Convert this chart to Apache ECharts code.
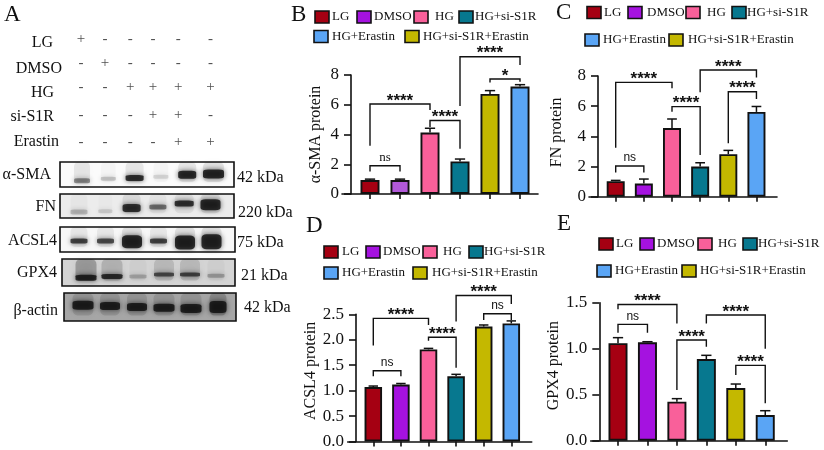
<!DOCTYPE html>
<html><head><meta charset="utf-8">
<style>html,body{margin:0;padding:0;background:#fff}#c{width:824px;height:450px}</style>
<script src="https://cdn.jsdelivr.net/npm/echarts@6/dist/echarts.min.js"></script>
</head><body><div id="c"></div>
<script>
// ---------- data ----------
var groups = ['LG','DMSO','HG','HG+si-S1R','HG+Erastin','HG+si-S1R+Erastin'];
var barsB = [0.94,0.94,4.13,2.19,6.73,7.22];
var errB  = [1.0,1.0,4.42,2.35,6.95,7.35];
var barsC = [1.03,0.87,4.55,2.0,2.82,5.62];
var errC  = [1.08,1.17,5.15,2.25,3.07,5.98];
var barsD = [1.07,1.12,1.81,1.28,2.26,2.32];
var errD  = [1.09,1.14,1.83,1.32,2.29,2.37];
var barsE = [1.06,1.07,0.424,0.888,0.572,0.279];
var errE  = [1.12,1.076,0.457,0.928,0.616,0.326];
// from, to, left end, top, right end, label
var bracketsB = [[0,1,1.52,1.9,1.52,'ns'],[0,2,3.24,6.05,5.65,'****'],[2,3,4.5,4.94,3.04,'****'],[3,5,5.92,9.23,8.67,'****'],[4,5,7.5,7.73,7.55,'*']];
var bracketsC = [[0,1,1.6,2.03,1.6,'ns'],[0,2,3.25,7.58,7.18,'****'],[2,3,5.63,5.97,2.76,'****'],[3,5,6.92,8.4,7.9,'****'],[4,5,3.54,6.96,6.47,'****']];
var bracketsD = [[0,1,1.28,1.39,1.28,'ns'],[0,2,1.885,2.42,2.29,'****'],[2,3,1.98,2.05,1.45,'****'],[3,5,2.36,2.87,2.70,'****'],[4,5,2.39,2.51,2.39,'ns']];
var bracketsE = [[0,2,1.43,1.48,1.275,'****'],[0,1,1.174,1.264,1.174,'ns'],[2,3,0.55,1.094,1.02,'****'],[3,5,1.275,1.366,1.0,'****'],[4,5,0.714,0.819,0.406,'****']];
var treatmentRows = ['LG','DMSO','HG','si-S1R','Erastin'];
var treatmentLG      = ['+','-','-','-','-','-'];
var treatmentDMSO    = ['-','+','-','-','-','-'];
var treatmentHG      = ['-','-','+','+','+','+'];
var treatmentSi      = ['-','-','-','+','+','-'];
var treatmentErastin = ['-','-','-','-','+','+'];
var blotNames = ['α-SMA','FN','ACSL4','GPX4','β-actin'];
var blotSizes = ['42 kDa','220 kDa','75 kDa','21 kDa','42 kDa'];
var bandSMA   = [0.5,0.22,0.97,0.14,1,1];
var bandFN    = [0.25,0.15,0.95,0.6,0.95,1];
var bandACSL4 = [0.85,0.8,1,0.85,1,1];
var bandGPX4  = [1,0.95,0.25,0.75,0.8,0.3];
var bandActin = [1,1,1,1,1,1];

// ---------- styling ----------
var SERIF = '"Liberation Serif","Times New Roman",serif', SANS = '"Liberation Sans",Arial,sans-serif';
var colors = ['#a50012','#a512e0','#f9609a','#07788f','#c4b800','#5aa5f5'];
var legendColors = {'LG':'#a50012','DMSO':'#a512e0','HG':'#f9609a','HG+si-S1R':'#07788f','HG+Erastin':'#5aa5f5','HG+si-S1R+Erastin':'#c4b800'};
var panels = [
 {yName:'α-SMA protein',bars:barsB,err:errB,br:bracketsB,left:342,right:538,top:75,bottom:194,axisX:351,first:370,band:30,barW:19,max:8,step:2,digits:0,nameGap:27,namePad:[0,0,0,0],nsFont:SERIF,dmso:'#b259d9',
  legend:[[315,17,332,'LG'],[357,17,374,'DMSO'],[414,17,435,'HG'],[459,17,475,'HG+si-S1R'],[314,36.5,332,'HG+Erastin'],[405,36.5,423,'HG+si-S1R+Erastin']]},
 {yName:'FN protein',bars:barsC,err:errC,br:bracketsC,left:589,right:777,top:76,bottom:196.7,axisX:598,first:615.7,band:28.15,barW:18,max:8,step:2,digits:0,nameGap:33,namePad:[0,0,0,8],nsFont:SANS,
  legend:[[587,12.5,604,'LG'],[628,12.5,647,'DMSO'],[686,12.5,707,'HG'],[732,12.5,747,'HG+si-S1R'],[585,40,603,'HG+Erastin'],[669,40,688,'HG+si-S1R+Erastin']]},
 {yName:'ACSL4 protein',bars:barsD,err:errD,br:bracketsD,left:347.7,right:531.7,top:314.3,bottom:441.7,axisX:356,first:373.3,band:27.6,barW:17.5,max:2.5,step:0.5,digits:1,nameGap:36,namePad:[0,0,0,14],nsFont:SANS,
  legend:[[324,252,342,'LG'],[366,252,383,'DMSO'],[423,252,443,'HG'],[469,252,484,'HG+si-S1R'],[324,273,342,'HG+Erastin'],[413,273,432,'HG+si-S1R+Erastin']]},
 {yName:'GPX4 protein',bars:barsE,err:errE,br:bracketsE,left:590.7,right:787.3,top:302.7,bottom:440.7,axisX:599.3,first:618,band:29.45,barW:19,max:1.5,step:0.5,digits:1,nameGap:31,namePad:[0,0,0,12],nsFont:SANS,
  legend:[[599,244,616,'LG'],[640,244,657,'DMSO'],[698,244,718,'HG'],[743,244,758,'HG+si-S1R'],[597,271,615,'HG+Erastin'],[682,271,700,'HG+si-S1R+Erastin']]}
];
var grids=[],xAxes=[],yAxes=[],series=[],graphic=[];
function text(t,x,y,size,align,font,extra){
  var o={type:'text',x:x,y:y,silent:true,style:{text:t,fontSize:size,fontFamily:font||SERIF,fill:'#111',align:align||'left',verticalAlign:'middle'}};
  if(extra) for(var k in extra) o[k]=extra[k];
  graphic.push(o);
}
panels.forEach(function(p){
  var g=grids.length;
  grids.push({left:p.left,top:p.top,width:p.right-p.left,height:p.bottom-p.top,containLabel:false});
  xAxes.push({gridIndex:g,type:'value',min:(p.left-p.first)/p.band,max:(p.right-p.first)/p.band,splitLine:{show:false},
    axisLine:{show:true,onZero:false,lineStyle:{color:'#111',width:1.6}},
    axisTick:{show:true,length:5,lineStyle:{color:'#111',width:1.6},customValues:[0,1,2,3,4,5]},
    axisLabel:{show:false}});
  yAxes.push({gridIndex:g,type:'value',min:0,max:p.max,interval:p.step,offset:-(p.axisX-p.left),splitLine:{show:false},
    name:p.yName,nameLocation:'middle',nameGap:p.nameGap,nameRotate:90,
    nameTextStyle:{fontFamily:SERIF,fontSize:16,color:'#111',padding:p.namePad},
    axisLine:{show:true,onZero:false,lineStyle:{color:'#111',width:1.6}},
    axisTick:{show:true,length:7,lineStyle:{color:'#111',width:1.6}},
    axisLabel:{margin:12,fontFamily:SERIF,fontSize:17,color:'#111',formatter:function(v){return v.toFixed(p.digits);}}});
  series.push({type:'bar',name:p.yName,xAxisIndex:g,yAxisIndex:g,barWidth:p.barW,silent:true,z:3,
    data:p.bars.map(function(v,i){return {value:[i,v],itemStyle:{color:(i===1&&p.dmso)?p.dmso:colors[i],borderColor:'#111',borderWidth:1.9}};})});
  series.push({type:'custom',name:p.yName+' error',xAxisIndex:g,yAxisIndex:g,silent:true,z:2,
    data:p.err.map(function(v,i){return [i,p.bars[i],v];}),
    renderItem:function(par,api){
      var a=api.coord([api.value(0),api.value(1)]),b=api.coord([api.value(0),api.value(2)]);
      var st={stroke:'#111',lineWidth:1.5,fill:'none'},c=p.barW*0.27;
      return {type:'group',children:[
        {type:'line',shape:{x1:a[0],y1:a[1],x2:b[0],y2:b[1]},style:st},
        {type:'line',shape:{x1:b[0]-c,y1:b[1],x2:b[0]+c,y2:b[1]},style:st}]};
    }});
  series.push({type:'custom',name:p.yName+' significance',xAxisIndex:g,yAxisIndex:g,silent:true,z:4,
    data:p.br.map(function(b){return [b[0],b[3],b[1],b[2],b[4]];}),
    renderItem:function(par,api){
      var x1=api.value(0),top=api.value(1),x2=api.value(2),l=api.value(3),r=api.value(4);
      var a=api.coord([x1,l]),b=api.coord([x1,top]),c=api.coord([x2,top]),d=api.coord([x2,r]);
      var lab=p.br[par.dataIndex][5],isNs=lab==='ns';
      return {type:'group',children:[
        {type:'polyline',shape:{points:[a,b,c,d]},style:{stroke:'#111',lineWidth:1.4,fill:'none'}},
        {type:'text',x:(b[0]+c[0])/2,y:b[1]-(isNs?8:3),style:{text:lab,align:'center',verticalAlign:'middle',
          fontFamily:isNs?p.nsFont:SANS,fontWeight:isNs?'normal':'bold',fontSize:isNs?(p.nsFont===SERIF?13:12):17,fill:'#111'}}]};
    }});
  p.legend.forEach(function(l){
    graphic.push({type:'rect',silent:true,shape:{x:l[0],y:l[1]-6,width:14,height:12},style:{fill:legendColors[l[3]],stroke:'#111',lineWidth:1.6}});
    text(l[3],l[2],l[1],13);
  });
});

// ---------- treatment table ----------
(function(){
  var g=grids.length,rows=[treatmentLG,treatmentDMSO,treatmentHG,treatmentSi,treatmentErastin];
  var colAt=[0,1,2.05,3,4.05,5.4],rowAt=[0.05,0.95,1.9,2.95,4],data=[];
  rows.forEach(function(r,ri){r.forEach(function(s,ci){data.push([colAt[ci],rowAt[ri],s]);});});
  grids.push({left:69,top:18,width:150,height:144});
  xAxes.push({gridIndex:g,type:'value',min:-0.5,max:5.75,show:false});
  yAxes.push({gridIndex:g,type:'value',min:-0.77,max:4.77,inverse:true,show:false});
  series.push({type:'scatter',name:'treatments',xAxisIndex:g,yAxisIndex:g,silent:true,symbolSize:1,itemStyle:{color:'rgba(0,0,0,0)'},data:data,
    label:{show:true,position:'inside',fontFamily:SERIF,fontSize:15,color:'#222',formatter:function(p){return p.value[2];}}});
  var lab=[[53,43],[62,69],[54,93],[54,117],[59,142]];
  treatmentRows.forEach(function(t,i){text(t,lab[i][0],lab[i][1],16,'right');});
})();

// ---------- western blots ----------
var blots=[
 {v:bandSMA,  box:[60,234,162,187],bg:'#fbfbfb',first:82,step:26.3,y:[.25,.33,.36,.41,.49,.52],w:[16,15,18,15,18,21],h:[5,4,6,4,8,9],haze:[.1,.03,.1,.03,.1,.12]},
 {v:bandFN,   box:[60,234,194,218],bg:'#ececec',first:79,step:26.3,y:[.25,.28,.42,.46,.6,.55],w:[17,14,18,17,19,20],h:[5,4,8,5,6,11],haze:[.03,.02,.1,.05,.08,.1]},
 {v:bandACSL4,box:[60,235,227,252],bg:'#f7f7f7',first:79,step:26.5,y:[.44,.44,.41,.44,.38,.41],w:[17,17,20,17,20,20],h:[5,5,13,5,14,15],haze:[.08,.08,.12,.08,.12,.12]},
 {v:bandGPX4, box:[62,235,259,286],bg:'#d4d4d4',first:86,step:26,y:[.31,.35,.35,.43,.43,.38],w:[21,21,17,20,20,17],h:[6,5,4,4,4,4],haze:[.35,.2,.04,.16,.16,.04]},
 {v:bandActin,box:[64,236,293,321],bg:'#a6a6a6',first:83,step:27,y:[.56,.54,.5,.47,.45,.5],w:[21,20,20,21,21,17],h:[9,8,8,8,9,12],haze:[.15,.15,.15,.15,.15,.25]}
];
var kda=[[237,178],[238,213],[237,243],[241,276],[244,308]],nm=[[51,175],[56,207],[57,241],[57,273],[58,311]];
blots.forEach(function(b,bi){
  var g=grids.length,B=b.box;
  grids.push({show:true,left:B[0],top:B[2],width:B[1]-B[0],height:B[3]-B[2],backgroundColor:b.bg,borderColor:'#111',borderWidth:1.6});
  xAxes.push({gridIndex:g,type:'value',min:(B[0]-b.first)/b.step,max:(B[1]-b.first)/b.step,show:false});
  yAxes.push({gridIndex:g,type:'value',min:0,max:1,show:false});
  series.push({type:'scatter',name:blotNames[bi]+' smear',xAxisIndex:g,yAxisIndex:g,silent:true,z:2,symbol:'roundRect',
    data:b.haze.map(function(v,i){return [i,0.6,v];}),
    symbolSize:function(v,p){return [b.w[p.dataIndex],(B[3]-B[2])*0.8];},
    itemStyle:{color:function(p){return 'rgba(20,20,20,'+p.value[2]+')';},shadowBlur:8,shadowColor:'rgba(20,20,20,0.25)'}});
  series.push({type:'scatter',name:blotNames[bi],xAxisIndex:g,yAxisIndex:g,silent:true,z:3,symbol:'roundRect',
    data:b.v.map(function(v,i){return [i,b.y[i],v];}),
    symbolSize:function(v,p){return [b.w[p.dataIndex],b.h[p.dataIndex]];},
    itemStyle:{color:function(p){return 'rgba(12,12,12,'+p.value[2]+')';},shadowBlur:5,shadowColor:'rgba(12,12,12,0.8)'}});
  text(blotNames[bi],nm[bi][0],nm[bi][1],16,'right');
  text(blotSizes[bi],kda[bi][0],kda[bi][1],16,'left');
});

// ---------- panel letters ----------
[['A',4,15],['B',291,15],['C',556,13],['D',306,226],['E',557,224]].forEach(function(l){text(l[0],l[1],l[2],23);});

var chart=echarts.init(document.getElementById('c'),null,{renderer:'canvas'});
chart.setOption({animation:false,backgroundColor:'#fff',tooltip:{show:false},grid:grids,xAxis:xAxes,yAxis:yAxes,series:series,graphic:{elements:graphic}});
</script></body></html>
